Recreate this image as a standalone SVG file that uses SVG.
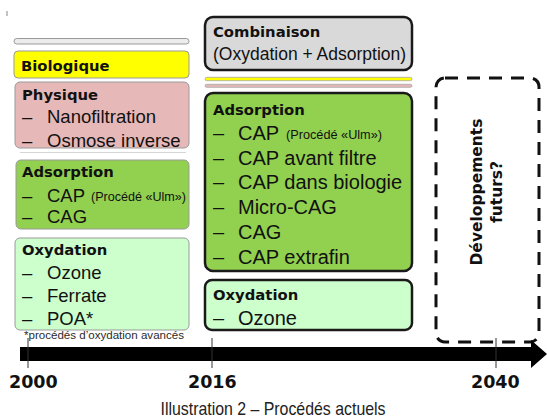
<svg xmlns="http://www.w3.org/2000/svg" width="547" height="420" viewBox="0 0 547 420">
  <style>
    .hdr { font-family: "DejaVu Sans", "Liberation Sans", sans-serif; font-weight: bold; font-size: 14.8px; fill: #111; }
    .bodyL { font-family: "Liberation Sans", Arial, sans-serif; font-size: 18.5px; fill: #111; }
    .bodyR { font-family: "Liberation Sans", Arial, sans-serif; font-size: 20px; fill: #111; }
    .small { font-family: "Liberation Sans", Arial, sans-serif; font-size: 12px; fill: #111; }
    .year { font-family: "DejaVu Sans", "Liberation Sans", sans-serif; font-weight: bold; font-size: 17.5px; fill: #111; }
    .boxL { stroke: #9a9a9a; stroke-width: 1; }
    .boxR { stroke: #1a1a1a; stroke-width: 2.5; }
    .tick { stroke: #333; stroke-width: 1; }
  </style>

  <rect width="547" height="420" fill="#ffffff"/>

  <!-- stray mark, top left -->
  <line x1="7" y1="11" x2="7" y2="16" stroke="#888" stroke-width="1"/>

  <!-- left column: processes in use since 2000 -->
  <g id="bar-gris">
    <rect x="14" y="38.5" width="175" height="5.5" rx="2.75" fill="#ececec" stroke="#9a9a9a" stroke-width="1"/>
  </g>

  <g id="biologique">
    <rect class="boxL" x="14" y="51" width="175" height="27" rx="4" fill="#ffff00"/>
    <text class="hdr" x="21" y="71">Biologique</text>
  </g>

  <g id="physique">
    <rect class="boxL" x="15" y="82" width="174" height="66" rx="5" fill="#e6b8b7"/>
    <text class="hdr" x="22" y="100">Physique</text>
    <text class="bodyL" x="22" y="123">–</text>
    <text class="bodyL" x="47" y="123">Nanofiltration</text>
    <text class="bodyL" x="22" y="147">–</text>
    <text class="bodyL" x="47" y="147">Osmose inverse</text>
  </g>

  <line x1="20" y1="152.5" x2="186" y2="152.5" stroke="#d6d6d6" stroke-width="1"/>

  <g id="adsorption-2000">
    <rect class="boxL" x="16" y="160" width="173" height="69" rx="5" fill="#92d050"/>
    <text class="hdr" x="22" y="177">Adsorption</text>
    <text class="bodyL" x="22" y="202">–</text>
    <text class="bodyL" x="47" y="202">CAP</text>
    <text class="small" x="91" y="201" textLength="95" lengthAdjust="spacingAndGlyphs">(Procédé «Ulm»)</text>
    <text class="bodyL" x="22" y="223">–</text>
    <text class="bodyL" x="47" y="223">CAG</text>
  </g>

  <g id="oxydation-2000">
    <rect class="boxL" x="15" y="238" width="174" height="92" rx="5" fill="#ccffcc"/>
    <text class="hdr" x="22" y="255">Oxydation</text>
    <text class="bodyL" x="22" y="279">–</text>
    <text class="bodyL" x="47" y="279">Ozone</text>
    <text class="bodyL" x="22" y="302">–</text>
    <text class="bodyL" x="47" y="302">Ferrate</text>
    <text class="bodyL" x="22" y="325">–</text>
    <text class="bodyL" x="47" y="325">POA*</text>
  </g>

  <text x="24" y="339" font-family="'Liberation Sans', Arial, sans-serif" font-size="10.5" fill="#2a2a2a" textLength="160" lengthAdjust="spacingAndGlyphs">*procédés d’oxydation avancés</text>

  <!-- middle column: processes since 2016 -->
  <g id="combinaison">
    <rect class="boxR" x="205" y="17" width="207" height="53" rx="8" fill="#d9d9d9"/>
    <text class="hdr" x="213" y="37">Combinaison</text>
    <text x="213" y="60" font-family="'Liberation Sans', Arial, sans-serif" font-size="17.5" fill="#111">(Oxydation + Adsorption)</text>
  </g>

  <g id="bandes">
    <rect x="205" y="77.3" width="207" height="3.4" rx="1.7" fill="#ffff00" stroke="#a6a6a6" stroke-width="0.8"/>
    <rect x="205" y="84.3" width="207" height="3" rx="1.5" fill="#e6b8b7" stroke="#a6a6a6" stroke-width="0.8"/>
  </g>

  <g id="adsorption-2016">
    <rect class="boxR" x="205" y="93" width="207" height="178" rx="8" fill="#92d050"/>
    <text class="hdr" x="213" y="115">Adsorption</text>
    <text class="bodyR" x="213" y="140">–</text>
    <text class="bodyR" x="238" y="140">CAP</text>
    <text class="small" x="286" y="139" textLength="96" lengthAdjust="spacingAndGlyphs">(Procédé «Ulm»)</text>
    <text class="bodyR" x="213" y="165">–</text>
    <text class="bodyR" x="238" y="165">CAP avant filtre</text>
    <text class="bodyR" x="213" y="189">–</text>
    <text class="bodyR" x="238" y="189">CAP dans biologie</text>
    <text class="bodyR" x="213" y="214">–</text>
    <text class="bodyR" x="238" y="214">Micro-CAG</text>
    <text class="bodyR" x="213" y="239">–</text>
    <text class="bodyR" x="238" y="239">CAG</text>
    <text class="bodyR" x="213" y="264">–</text>
    <text class="bodyR" x="238" y="264">CAP extrafin</text>
  </g>

  <g id="oxydation-2016">
    <rect class="boxR" x="205" y="280" width="207" height="50" rx="7" fill="#ccffcc"/>
    <text class="hdr" x="213" y="300">Oxydation</text>
    <text class="bodyR" x="213" y="325">–</text>
    <text class="bodyR" x="238" y="325">Ozone</text>
  </g>

  <!-- right column: future developments -->
  <g id="futurs">
    <rect x="436" y="78" width="103" height="264" rx="9" fill="none" stroke="#111" stroke-width="3" stroke-dasharray="13 9"/>
    <g font-family="'DejaVu Sans', 'Liberation Sans', sans-serif" font-weight="bold" font-size="15.5" fill="#111" text-anchor="middle">
      <text transform="translate(482,192) rotate(-90)">Développements</text>
      <text transform="translate(502,192) rotate(-90)">futurs?</text>
    </g>
  </g>

  <!-- timeline -->
  <g id="connectors">
    <path d="M20,347 H531 V340 L547,354 L531,368 V361 H20 Z" fill="#000"/>
    <line class="tick" x1="28" y1="338" x2="28" y2="368"/>
    <line class="tick" x1="212" y1="338" x2="212" y2="368"/>
    <line class="tick" x1="496" y1="338" x2="496" y2="368"/>
  </g>

  <g id="annees">
    <text class="year" x="9" y="388">2000</text>
    <text class="year" x="188" y="388">2016</text>
    <text class="year" x="471" y="388">2040</text>
  </g>

  <text x="273" y="415" text-anchor="middle" font-family="'Liberation Sans', Arial, sans-serif" font-size="19" fill="#222" textLength="225" lengthAdjust="spacingAndGlyphs">Illustration 2 – Procédés actuels</text>
</svg>
